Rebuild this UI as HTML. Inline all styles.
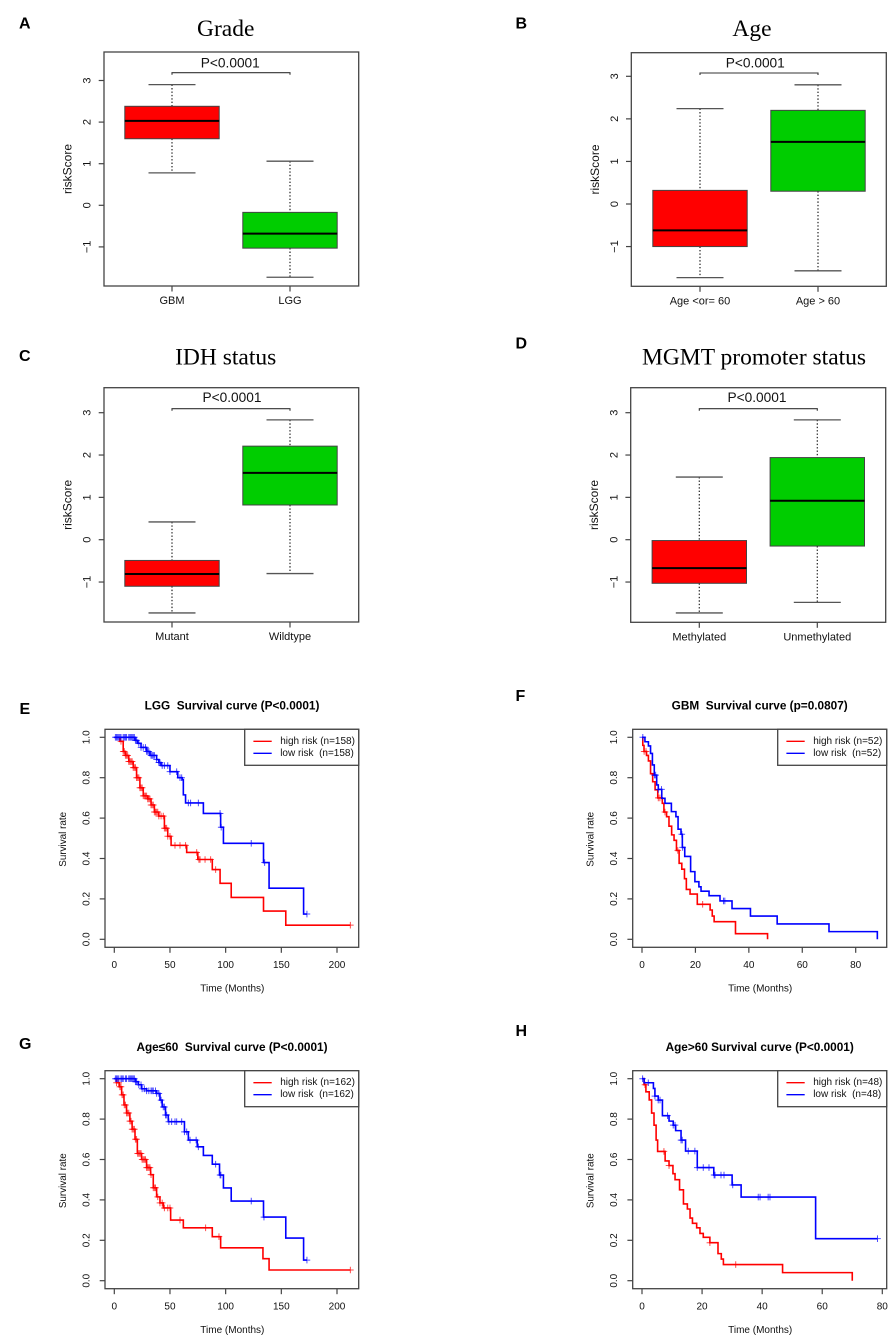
<!DOCTYPE html>
<html lang="en">
<head>
<meta charset="utf-8">
<title>Risk score and survival curves</title>
<style>
html,body{margin:0;padding:0;background:#fff;}
body{width:890px;height:1339px;overflow:hidden;}
svg{display:block;filter:blur(0.35px);}
text{font-family:"Liberation Sans",sans-serif;fill:#111;white-space:pre;}
.panel-letter{font-weight:bold;font-size:16px;fill:#000;}
.box-title{font-family:"Liberation Serif",serif;font-size:23.5px;text-anchor:middle;fill:#000;}
.km-title{font-weight:bold;font-size:11.8px;text-anchor:middle;fill:#000;}
.pval{font-size:13.7px;text-anchor:middle;}
</style>
</head>
<body>
<svg id="fig" xmlns="http://www.w3.org/2000/svg" width="890" height="1339" viewBox="0 0 890 1339">
  <rect x="0" y="0" width="890" height="1339" fill="#fff"/>
  <text class="panel-letter" x="19" y="28.5">A</text>
  <text class="panel-letter" x="515.5" y="28.5">B</text>
  <text class="panel-letter" x="19" y="361">C</text>
  <text class="panel-letter" x="515.5" y="348.5">D</text>
  <text class="panel-letter" x="19.5" y="714">E</text>
  <text class="panel-letter" x="515.5" y="701">F</text>
  <text class="panel-letter" x="19" y="1049">G</text>
  <text class="panel-letter" x="515.5" y="1036">H</text>

  <text class="box-title" x="225.7" y="36">Grade</text>
  <text class="box-title" x="752" y="36">Age</text>
  <text class="box-title" x="225.7" y="364.5">IDH status</text>
  <text class="box-title" x="754" y="364.5">MGMT promoter status</text>

  <text class="pval" x="230.3" y="67.5">P&lt;0.0001</text>
  <text class="pval" x="755.3" y="67.5">P&lt;0.0001</text>
  <text class="pval" x="232" y="402">P&lt;0.0001</text>
  <text class="pval" x="757" y="402">P&lt;0.0001</text>

  <text class="km-title" x="232" y="709.5">LGG  Survival curve (P&lt;0.0001)</text>
  <text class="km-title" x="759.7" y="709.5">GBM  Survival curve (p=0.0807)</text>
  <text class="km-title" x="232" y="1051">Age≤60  Survival curve (P&lt;0.0001)</text>
  <text class="km-title" x="759.7" y="1051">Age&gt;60 Survival curve (P&lt;0.0001)</text>
</svg>
<script>
// ---------- box plot data ----------
const riskTicks = [-1, 0, 1, 2, 3];
const gradeCategories = ['GBM', 'LGG'];
const gradeWhiskerHigh = [2.9, 1.06];
const gradeQ3 = [2.38, -0.17];
const gradeMedian = [2.03, -0.68];
const gradeQ1 = [1.6, -1.03];
const gradeWhiskerLow = [0.78, -1.73];

const ageCategories = ['Age <or= 60', 'Age > 60'];
const ageWhiskerHigh = [2.24, 2.8];
const ageQ3 = [0.32, 2.2];
const ageMedian = [-0.62, 1.46];
const ageQ1 = [-1.0, 0.3];
const ageWhiskerLow = [-1.73, -1.57];

const idhCategories = ['Mutant', 'Wildtype'];
const idhWhiskerHigh = [0.42, 2.83];
const idhQ3 = [-0.49, 2.21];
const idhMedian = [-0.81, 1.58];
const idhQ1 = [-1.1, 0.82];
const idhWhiskerLow = [-1.73, -0.8];

const mgmtCategories = ['Methylated', 'Unmethylated'];
const mgmtWhiskerHigh = [1.48, 2.83];
const mgmtQ3 = [-0.02, 1.94];
const mgmtMedian = [-0.67, 0.92];
const mgmtQ1 = [-1.03, -0.15];
const mgmtWhiskerLow = [-1.73, -1.48];

// ---------- survival data ----------
const survivalTicks = [0, 0.2, 0.4, 0.6, 0.8, 1];
const ticks200 = [0, 50, 100, 150, 200];
const ticks80by20 = [0, 20, 40, 60, 80];

const lggHighTimes = [0,5,8,10,13,17,20,23,26,30,33,36,40,45,48,51,65,75,88,95,105,134,154,212];
const lggHighSurvival = [1,0.98,0.93,0.91,0.88,0.85,0.8,0.75,0.71,0.695,0.665,0.63,0.61,0.55,0.51,0.465,0.43,0.395,0.345,0.277,0.207,0.14,0.07,0.07];
const lggHighCensor = [6,8,9,10,11,12,13,14,15,16,17,18,19,20,21,22,23,24,25,26,27,28,29,30,31,32,33,34,35,36,37,38,39,40,42,44,45,46,47,48,50,54.5,59,64,74,76,77,81.5,86.5,91,212];
const lggLowTimes = [0,18.6,21,24,29,32,38,40,42,50,57,61,62,64,80,95.5,98,134,139,170,173];
const lggLowSurvival = [1,0.985,0.97,0.95,0.93,0.91,0.89,0.875,0.86,0.83,0.8,0.79,0.715,0.675,0.623,0.555,0.475,0.38,0.253,0.125,0.125];
const lggLowCensor = [1,2,3,4,5,6,8,9,10,11,13,14,15,16,17,18,19,20,22,24,26,28,29,30,31,33,34,35,36,38,40,41,43,45,48,50,56,59,60.5,66.5,68.5,75.5,95,96,123,135,173];

const gbmHighTimes = [0,0.3,0.75,1.7,2.4,3.2,4,4.9,5.9,7.6,8.2,9.2,10.1,11.1,12,12.9,13.9,14.9,15.9,16.6,18,20.7,25.5,26.3,27,35,47,47];
const gbmHighSurvival = [1,0.96,0.93,0.91,0.883,0.82,0.78,0.74,0.7,0.673,0.63,0.607,0.56,0.517,0.49,0.44,0.376,0.347,0.3,0.247,0.224,0.173,0.145,0.115,0.087,0.028,0,0];
const gbmHighCensor = [0.8,1.5,6.1,6.7,8.6,13.4,22.7];
const gbmLowTimes = [0,1.1,2.4,3.2,3.9,4.6,5.5,6.1,7.4,8.6,11,12.7,13.5,14.6,15.1,16,18.2,19.8,21.3,22.1,25.1,29.2,33.7,40.6,50.6,70,88.1,88.1];
const gbmLowSurvival = [1,0.978,0.957,0.92,0.863,0.813,0.764,0.742,0.698,0.673,0.632,0.607,0.545,0.52,0.455,0.41,0.335,0.285,0.26,0.238,0.216,0.19,0.152,0.115,0.076,0.038,0,0];
const gbmLowCensor = [0.3,4.7,5.1,6.1,7.3,14.9,15.2,30.5,31];

const youngHighTimes = [0,2,4.5,6.6,8.7,11,14,16,18.6,20.7,24.5,29,32.6,35,38,41,44,50.6,62,88,95.5,133.5,139,212];
const youngHighSurvival = [1,0.98,0.96,0.92,0.87,0.83,0.79,0.75,0.7,0.63,0.6,0.56,0.525,0.46,0.415,0.385,0.36,0.3,0.262,0.218,0.163,0.109,0.053,0.053];
const youngHighCensor = [2,4,5,6,7,8,9,10,11,12,13,14,15,16,17,18,19,20,21,22,23,24,25,26,27,28,29,30,31,32,33,35,36,37,39,41,43,45,48,50,59,82,94,212];
const youngLowTimes = [0,19,21.5,24.5,29,38,41,43,46,48.5,50.6,63,66.5,74.5,80,88,94.5,98,105,134,154,170,173];
const youngLowSurvival = [1,0.985,0.97,0.95,0.94,0.927,0.894,0.86,0.82,0.787,0.787,0.737,0.696,0.663,0.62,0.577,0.523,0.459,0.394,0.315,0.211,0.102,0.102];
const youngLowCensor = [1,2,3,4,6,7,8,10,11,13,14,15,16,17,18,19,20,22,24,25,27,29,31,33,34,35,37,38,40,42,44,45,46,47,49,51.5,54.5,56,60.5,63,65,68,73.5,75.5,91,95,95.7,123,134.4,173];

const oldHighTimes = [0,0.7,1.3,2.4,3.2,4,4.7,5.2,7.7,9,10.3,11,12.5,13.8,15.1,16,16.8,18.2,19.3,20.4,22.6,25.3,26.4,27.1,46.8,70,70];
const oldHighSurvival = [1,0.97,0.935,0.895,0.83,0.77,0.696,0.64,0.593,0.57,0.53,0.5,0.45,0.38,0.355,0.31,0.284,0.262,0.234,0.215,0.188,0.134,0.107,0.08,0.04,0,0];
const oldHighCensor = [1,7.3,9,22.6,31.2];
const oldLowTimes = [0,0.7,3.8,4.3,5.4,6.8,9,10.4,11.2,13,14.5,18.4,23.9,30,33,57.8,78.4];
const oldLowSurvival = [1,0.98,0.952,0.914,0.894,0.817,0.79,0.77,0.743,0.696,0.642,0.56,0.523,0.474,0.414,0.208,0.208];
const oldLowCensor = [0.2,2.1,4.3,5.4,6,8.5,10.4,11,13,13.4,15.4,17.6,18.4,20.4,22.3,24,24.3,26.3,27.3,30.2,38.7,39.3,42,42.6,78.4];

const legendHigh = 'high risk';
const legendLow = 'low risk';

// ---------- drawing ----------
const NS = 'http://www.w3.org/2000/svg';
const fig = document.getElementById('fig');
const AXIS = '#444';

function mk(tag, attrs, parent) {
  const el = document.createElementNS(NS, tag);
  for (const k in attrs) el.setAttribute(k, attrs[k]);
  parent.appendChild(el);
  return el;
}
function linear(v0, p0, v1, p1) {
  return v => p0 + (v - v0) * (p1 - p0) / (v1 - v0);
}
function drawTickText(str, x, y, size, rotate, name, g) {
  const attrs = {x: x, y: y, 'font-size': size, 'text-anchor': 'middle', 'dominant-baseline': 'central'};
  if (rotate) attrs.transform = 'rotate(-90 ' + x + ' ' + y + ')';
  const t = mk('text', attrs, g);
  
  
  t.textContent = str;
  return t;
}
function drawFrame(f, g) {
  const r = mk('rect', {x: f.x0, y: f.y0, width: f.x1 - f.x0, height: f.y1 - f.y0, fill: 'none', stroke: AXIS, 'stroke-width': 1.3}, g);
  
  
}
function drawLine(x1, y1, x2, y2, stroke, sw, dash, name, g) {
  const attrs = {x1: x1, y1: y1, x2: x2, y2: y2, stroke: stroke, 'stroke-width': sw};
  if (dash) attrs['stroke-dasharray'] = dash;
  const l = mk('line', attrs, g);
  
  
  return l;
}

function drawBoxPanel(cfg) {
  const g = mk('g', {}, fig);
  
  
  const f = cfg.frame;
  const y = linear(0, cfg.yZero, 3, cfg.yThree);
  drawFrame(f, g);
  riskTicks.forEach(v => {
    drawLine(f.x0 - 5.3, y(v), f.x0, y(v), AXIS, 1.2, null, 'y-tick', g);
    drawTickText(v < 0 ? '\u2212' + Math.abs(v) : String(v), f.x0 - 16.3, y(v), 11, true, 'y-tick-label', g);
  });
  drawTickText('riskScore', f.x0 - 36.5, (f.y0 + f.y1) / 2, 12, true, 'y-axis-title', g);
  const colors = ['#ff0000', '#00cd00'];
  cfg.categories.forEach((c, i) => {
    const cx = cfg.centers[i];
    drawLine(cx, f.y1, cx, f.y1 + 5.5, AXIS, 1.2, null, 'x-tick', g);
    drawTickText(c, cx, f.y1 + 15, 11, false, 'x-tick-label', g);
    drawLine(cx, y(cfg.hi[i]), cx, y(cfg.q3[i]), '#222', 1.2, '1.4 2', 'upper-whisker', g);
    drawLine(cx, y(cfg.q1[i]), cx, y(cfg.lo[i]), '#222', 1.2, '1.4 2', 'lower-whisker', g);
    drawLine(cx - 23.5, y(cfg.hi[i]), cx + 23.5, y(cfg.hi[i]), '#555', 1.3, null, 'upper-cap', g);
    drawLine(cx - 23.5, y(cfg.lo[i]), cx + 23.5, y(cfg.lo[i]), '#555', 1.3, null, 'lower-cap', g);
    const b = mk('rect', {x: cx - 47.2, y: y(cfg.q3[i]), width: 94.4, height: y(cfg.q1[i]) - y(cfg.q3[i]), fill: colors[i], stroke: '#444', 'stroke-width': 1}, g);
    
    
    drawLine(cx - 47.2, y(cfg.med[i]), cx + 47.2, y(cfg.med[i]), '#000', 2, null, 'median-line', g);
  });
  const p = mk('path', {d: 'M' + cfg.centers[0] + ' ' + (cfg.brace + 2) + 'V' + cfg.brace + 'H' + cfg.centers[1] + 'V' + (cfg.brace + 2), fill: 'none', stroke: '#333', 'stroke-width': 1.1}, g);
  
  
}

function stepValue(times, surv, t) {
  let s = surv[0];
  for (let i = 0; i < times.length; i++) {
    if (times[i] <= t) s = surv[i]; else break;
  }
  return s;
}
function drawCurve(times, surv, censor, color, x, y, name, g) {
  let d = 'M' + x(times[0]) + ' ' + y(surv[0]);
  for (let i = 1; i < times.length; i++) {
    d += 'H' + x(times[i]) + 'V' + y(surv[i]);
  }
  const c = mk('path', {d: d, fill: 'none', stroke: color, 'stroke-width': 1.6}, g);
  
  
  censor.forEach(t => {
    const px = x(t), py = y(stepValue(times, surv, t));
    const m = mk('path', {d: 'M' + (px - 3.3) + ' ' + py + 'H' + (px + 3.3) + 'M' + px + ' ' + (py - 3.3) + 'V' + (py + 3.3), stroke: color, 'stroke-width': 1, 'stroke-opacity': 0.7, fill: 'none'}, g);
    
    
  });
}
function drawKmPanel(cfg) {
  const g = mk('g', {}, fig);
  
  
  const f = cfg.frame;
  const x = linear(0, cfg.xZero, cfg.xRef, cfg.xRefPx);
  const y = linear(0, cfg.yZero, 1, cfg.yOne);
  drawFrame(f, g);
  survivalTicks.forEach(v => {
    drawLine(f.x0 - 5.3, y(v), f.x0, y(v), AXIS, 1.2, null, 'y-tick', g);
    drawTickText(v.toFixed(1), f.x0 - 18, y(v), 10, true, 'y-tick-label', g);
  });
  drawTickText('Survival rate', f.x0 - 41.5, (f.y0 + f.y1) / 2 + 1, 9.9, true, 'y-axis-title', g);
  cfg.xTicks.forEach(v => {
    drawLine(x(v), f.y1, x(v), f.y1 + 5.5, AXIS, 1.2, null, 'x-tick', g);
    drawTickText(String(v), x(v), f.y1 + 18.3, 10, false, 'x-tick-label', g);
  });
  drawTickText('Time (Months)', (f.x0 + f.x1) / 2 + 0.5, f.y1 + 41.8, 10, false, 'x-axis-title', g);
  drawCurve(cfg.highT, cfg.highS, cfg.highC, '#ff0000', x, y, 'high-risk', g);
  drawCurve(cfg.lowT, cfg.lowS, cfg.lowC, '#0000ff', x, y, 'low-risk', g);
  const lx = f.x1 - cfg.legendW;
  const lb = mk('rect', {x: lx, y: f.y0, width: cfg.legendW, height: 36, fill: '#fff', stroke: AXIS, 'stroke-width': 1.3}, g);
  
  
  drawLine(lx + 8.7, f.y0 + 12, lx + 27, f.y0 + 12, '#ff0000', 1.3, null, 'legend-high-risk-line', g);
  drawLine(lx + 8.7, f.y0 + 24, lx + 27, f.y0 + 24, '#0000ff', 1.3, null, 'legend-low-risk-line', g);
  const t1 = mk('text', {x: lx + 35.5, y: f.y0 + 12, 'font-size': 10, 'dominant-baseline': 'central'}, g);
  
  
  t1.textContent = legendHigh + ' (n=' + cfg.n + ')';
  const t2 = mk('text', {x: lx + 35.5, y: f.y0 + 24, 'font-size': 10, 'dominant-baseline': 'central'}, g);
  
  
  t2.textContent = legendLow + '  (n=' + cfg.n + ')';
}

drawBoxPanel({name: 'grade-boxplot', frame: {x0: 104, x1: 358.7, y0: 52, y1: 286}, yZero: 205.3, yThree: 80.5, centers: [172, 290], brace: 72.7, categories: gradeCategories, hi: gradeWhiskerHigh, q3: gradeQ3, med: gradeMedian, q1: gradeQ1, lo: gradeWhiskerLow});
drawBoxPanel({name: 'age-boxplot', frame: {x0: 631.3, x1: 886.3, y0: 52.7, y1: 286.3}, yZero: 204, yThree: 76.3, centers: [700, 818], brace: 73, categories: ageCategories, hi: ageWhiskerHigh, q3: ageQ3, med: ageMedian, q1: ageQ1, lo: ageWhiskerLow});
drawBoxPanel({name: 'idh-boxplot', frame: {x0: 104, x1: 358.7, y0: 387.7, y1: 622}, yZero: 539.7, yThree: 412.7, centers: [172, 290], brace: 408.7, categories: idhCategories, hi: idhWhiskerHigh, q3: idhQ3, med: idhMedian, q1: idhQ1, lo: idhWhiskerLow});
drawBoxPanel({name: 'mgmt-boxplot', frame: {x0: 630.7, x1: 885.7, y0: 387.7, y1: 622.3}, yZero: 539.7, yThree: 412.7, centers: [699.3, 817.3], brace: 408.7, categories: mgmtCategories, hi: mgmtWhiskerHigh, q3: mgmtQ3, med: mgmtMedian, q1: mgmtQ1, lo: mgmtWhiskerLow});

drawKmPanel({name: 'lgg-survival-plot', frame: {x0: 105, x1: 358.7, y0: 729.3, y1: 947.3}, xZero: 114.3, xRef: 200, xRefPx: 337, yZero: 939.3, yOne: 737.3, xTicks: ticks200, legendW: 114, n: 158, highT: lggHighTimes, highS: lggHighSurvival, highC: lggHighCensor, lowT: lggLowTimes, lowS: lggLowSurvival, lowC: lggLowCensor});
drawKmPanel({name: 'gbm-survival-plot', frame: {x0: 632.7, x1: 886.7, y0: 729.3, y1: 947.3}, xZero: 642, xRef: 80, xRefPx: 855.7, yZero: 939.3, yOne: 737.3, xTicks: ticks80by20, legendW: 109, n: 52, highT: gbmHighTimes, highS: gbmHighSurvival, highC: gbmHighCensor, lowT: gbmLowTimes, lowS: gbmLowSurvival, lowC: gbmLowCensor});
drawKmPanel({name: 'age-under-60-survival-plot', frame: {x0: 105, x1: 358.7, y0: 1070.7, y1: 1288.7}, xZero: 114.3, xRef: 200, xRefPx: 337, yZero: 1280.7, yOne: 1078.7, xTicks: ticks200, legendW: 114, n: 162, highT: youngHighTimes, highS: youngHighSurvival, highC: youngHighCensor, lowT: youngLowTimes, lowS: youngLowSurvival, lowC: youngLowCensor});
drawKmPanel({name: 'age-over-60-survival-plot', frame: {x0: 632.7, x1: 886.7, y0: 1070.7, y1: 1288.7}, xZero: 642, xRef: 80, xRefPx: 882.3, yZero: 1280.7, yOne: 1078.7, xTicks: ticks80by20, legendW: 109, n: 48, highT: oldHighTimes, highS: oldHighSurvival, highC: oldHighCensor, lowT: oldLowTimes, lowS: oldLowSurvival, lowC: oldLowCensor});
</script>
</body>
</html>
